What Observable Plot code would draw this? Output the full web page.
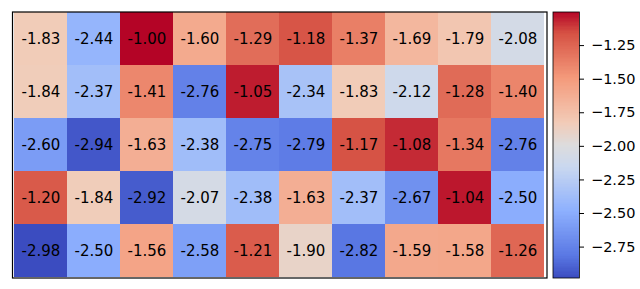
<!DOCTYPE html>
<html>
<head>
<meta charset="utf-8">
<script src="https://cdn.jsdelivr.net/npm/d3@7"></script>
<script src="https://cdn.jsdelivr.net/npm/@observablehq/plot@0.6"></script>
<style>
  html, body { margin: 0; padding: 0; background: #fff; }
  #chart { position: relative; width: 640px; height: 289px; display: flex; }
  #chart svg { display: block; }
</style>
</head>
<body>
<div id="chart"></div>
<script>
// Heatmap values, row by row (top to bottom), 10 columns each
const row0 = [-1.83, -2.44, -1.00, -1.60, -1.29, -1.18, -1.37, -1.69, -1.79, -2.08];
const row1 = [-1.84, -2.37, -1.41, -2.76, -1.05, -2.34, -1.83, -2.12, -1.28, -1.40];
const row2 = [-2.60, -2.94, -1.63, -2.38, -2.75, -2.79, -1.17, -1.08, -1.34, -2.76];
const row3 = [-1.20, -1.84, -2.92, -2.07, -2.38, -1.63, -2.37, -2.67, -1.04, -2.50];
const row4 = [-2.98, -2.50, -1.56, -2.58, -1.21, -1.90, -2.82, -1.59, -1.58, -1.26];
const rows = [row0, row1, row2, row3, row4];
const colorTicks = [-1.25, -1.50, -1.75, -2.00, -2.25, -2.50, -2.75];
const vmin = -2.98, vmax = -1.00;

// coolwarm colormap stops
const cwStops = [
  [0.0, "#3b4cc0"], [0.0833, "#5a78e4"], [0.25, "#8db0fe"], [0.4167, "#cad8ef"],
  [0.5, "#dddcdc"], [0.5833, "#f2cbb7"], [0.75, "#f49a7b"], [0.9167, "#d65244"], [1.0, "#b40426"]
];
const stopT = cwStops.map(d => d[0]);
const stopC = cwStops.map(d => d[1]);
const coolwarm = t => {
  t = Math.max(0, Math.min(1, t));
  let i = 1;
  while (i < stopT.length - 1 && t > stopT[i]) i++;
  const u = (t - stopT[i - 1]) / (stopT[i] - stopT[i - 1]);
  return d3.interpolateRgb(stopC[i - 1], stopC[i])(u);
};

const cells = [];
rows.forEach((r, ri) => r.forEach((v, ci) => cells.push({row: ri, col: ci, value: v})));

const font = "DejaVu Sans, sans-serif";

const main = Plot.plot({
  width: 552,
  height: 289,
  marginLeft: 12,
  marginRight: 5.5,
  marginTop: 11.5,
  marginBottom: 11.5,
  style: {fontFamily: font, fontSize: "15px", background: "white"},
  x: {type: "band", domain: d3.range(10), padding: 0, axis: null},
  y: {type: "band", domain: d3.range(5), padding: 0, axis: null},
  color: {type: "linear", domain: [vmin, vmax], range: [0, 1], interpolate: () => coolwarm},
  marks: [
    Plot.cell(cells, {x: "col", y: "row", fill: "value", shapeRendering: "crispEdges"}),
    Plot.text(cells, {x: "col", y: "row", text: d => d.value.toFixed(2), fill: "black", fontSize: 15}),
    Plot.frame({stroke: "black", strokeWidth: 1.2})
  ]
});

// colorbar
const nBins = 200;
const bins = d3.range(nBins).map(i => ({
  y1: vmin + (vmax - vmin) * i / nBins,
  y2: vmin + (vmax - vmin) * (i + 1) / nBins
}));
const barW = 26.5;
const fmt = d3.format(".2f");
const bar = Plot.plot({
  width: 88,
  height: 289,
  marginLeft: 0.5,
  marginRight: 61,
  marginTop: 11.5,
  marginBottom: 11.5,
  style: {fontFamily: font, fontSize: "14.5px", background: "white", color: "black"},
  x: {domain: [0, 1], axis: null},
  y: {domain: [vmin, vmax], axis: null},
  color: {type: "linear", domain: [vmin, vmax], range: [0, 1], interpolate: () => coolwarm},
  marks: [
    Plot.rect(bins, {x1: 0, x2: 1, y1: "y1", y2: "y2", fill: d => (d.y1 + d.y2) / 2, shapeRendering: "crispEdges"}),
    Plot.frame({stroke: "black", strokeWidth: 0.8}),
    Plot.ruleY(colorTicks, {y: d => d, x1: 1, x2: 1 + 5 / barW, stroke: "black", strokeWidth: 1}),
    Plot.text(colorTicks, {y: d => d, x: 1, dx: 11.5, text: d => fmt(d), textAnchor: "start",
      fill: "black", fontSize: 14.5, fontFamily: font})
  ]
});

const chart = document.getElementById("chart");
chart.appendChild(main);
chart.appendChild(bar);
</script>
</body>
</html>
